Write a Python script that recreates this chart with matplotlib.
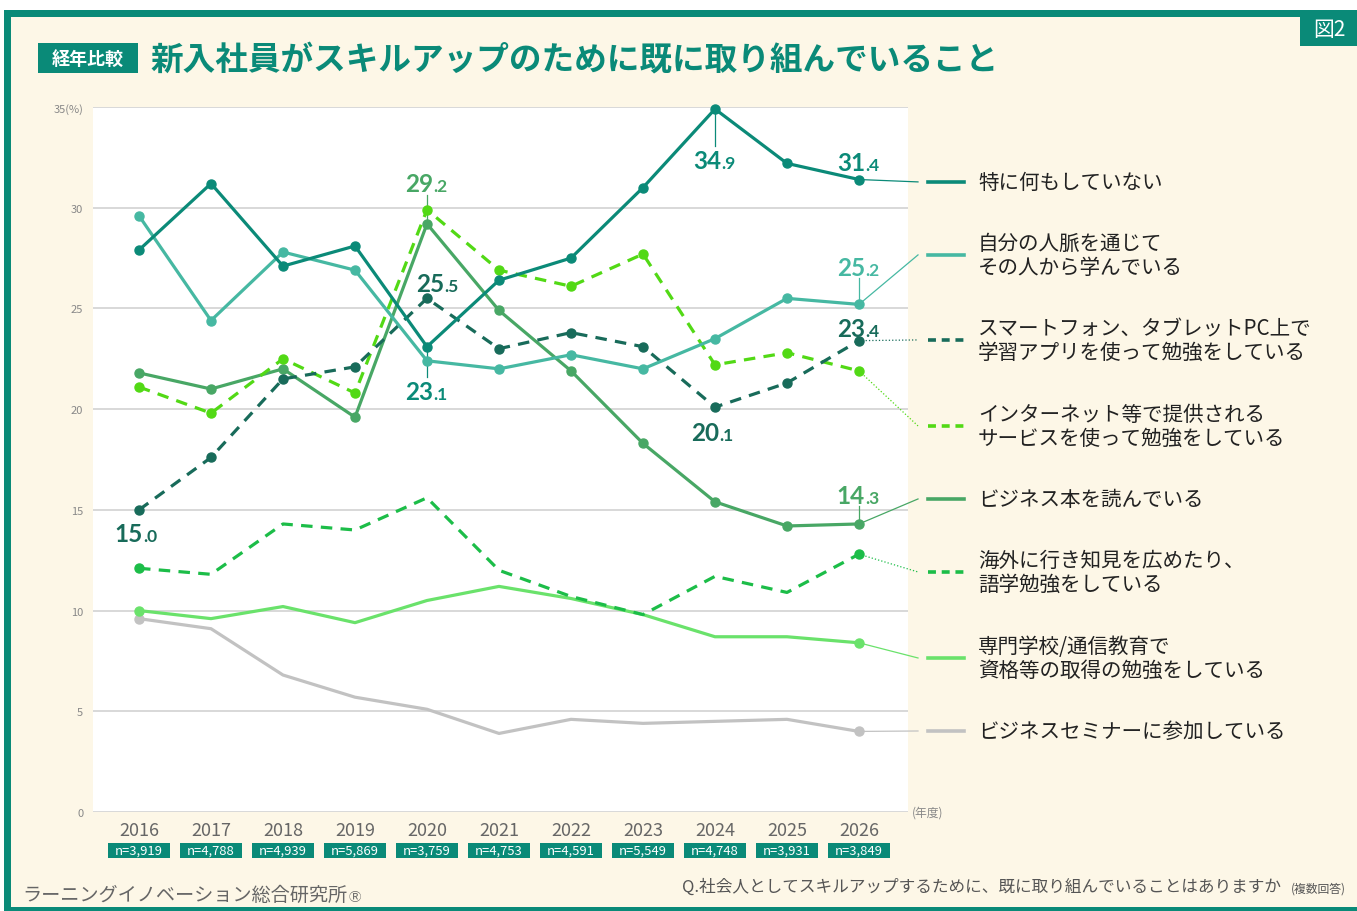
import matplotlib
matplotlib.use("Agg")
import matplotlib.pyplot as plt
from matplotlib.patches import Rectangle

plt.rcParams["font.family"] = ["Noto Sans CJK JP", "DejaVu Sans"]

# データ
years = [2016, 2017, 2018, 2019, 2020, 2021, 2022, 2023, 2024, 2025, 2026]
sample_sizes = ["3,919", "4,788", "4,939", "5,869", "3,759", "4,753",
                "4,591", "5,549", "4,748", "3,931", "3,849"]

nothing = [27.9, 31.2, 27.1, 28.1, 23.1, 26.4, 27.5, 31.0, 34.9, 32.2, 31.4]
network = [29.6, 24.4, 27.8, 26.9, 22.4, 22.0, 22.7, 22.0, 23.5, 25.5, 25.2]
app_study = [15.0, 17.6, 21.5, 22.1, 25.5, 23.0, 23.8, 23.1, 20.1, 21.3, 23.4]
internet = [21.1, 19.8, 22.5, 20.8, 29.9, 26.9, 26.1, 27.7, 22.2, 22.8, 21.9]
books = [21.8, 21.0, 22.0, 19.6, 29.2, 24.9, 21.9, 18.3, 15.4, 14.2, 14.3]
overseas = [12.1, 11.8, 14.3, 14.0, 15.6, 12.0, 10.7, 9.8, 11.7, 10.9, 12.8]
school = [10.0, 9.6, 10.2, 9.4, 10.5, 11.2, 10.6, 9.8, 8.7, 8.7, 8.4]
seminar = [9.6, 9.1, 6.8, 5.7, 5.1, 3.9, 4.6, 4.4, 4.5, 4.6, 4.0]

labels = [
    "特に何もしていない",
    "自分の人脈を通じて\nその人から学んでいる",
    "スマートフォン、タブレットPC上で\n学習アプリを使って勉強をしている",
    "インターネット等で提供される\nサービスを使って勉強をしている",
    "ビジネス本を読んでいる",
    "海外に行き知見を広めたり、\n語学勉強をしている",
    "専門学校/通信教育で\n資格等の取得の勉強をしている",
    "ビジネスセミナーに参加している",
]
legend_y_px = [183, 256, 341, 427, 500, 573, 659, 732]

TEAL = "#0a8a78"
CREAM = "#fdf7e7"
W, H = 1357, 912

# (値, 色, 破線, 全点マーカー)
series = [
    (nothing, "#0b8a78", False, True),
    (network, "#46b8a2", False, True),
    (app_study, "#186b5a", True, True),
    (internet, "#52d915", True, True),
    (books, "#48a765", False, True),
    (overseas, "#1cbd48", True, False),
    (school, "#6ae26b", False, False),
    (seminar, "#c2c2c2", False, False),
]


def fx(px):
    return px / W


def fy(py):
    return 1 - py / H


def xdata(px):
    return 2016 + (px - 139) / 72.0


def ydata(py):
    return (813 - py) / 20.14


fig = plt.figure(figsize=(W / 100, H / 100), dpi=100)
fig.patch.set_facecolor("white")

# 背景と枠
fig.patches.append(Rectangle((fx(4), 0), 1 - fx(4), fy(11), transform=fig.transFigure,
                             facecolor=CREAM, edgecolor="none", zorder=-10))
fig.patches.append(Rectangle((fx(4), fy(18)), 1, 7 / H, transform=fig.transFigure,
                             facecolor=TEAL, edgecolor="none"))
fig.patches.append(Rectangle((fx(4), 0), 7 / W, fy(11), transform=fig.transFigure,
                             facecolor=TEAL, edgecolor="none"))
fig.patches.append(Rectangle((fx(4), 0), 1, 4 / H, transform=fig.transFigure,
                             facecolor=TEAL, edgecolor="none"))
fig.patches.append(Rectangle((fx(1300), fy(47)), 57 / W, 36 / H, transform=fig.transFigure,
                             facecolor=TEAL, edgecolor="none"))
fig.text(fx(1329), fy(30), "図2", color="white", fontsize=15, ha="center", va="center")

# タイトル
fig.patches.append(Rectangle((fx(38), fy(74)), 100 / W, 30 / H, transform=fig.transFigure,
                             facecolor=TEAL, edgecolor="none"))
fig.text(fx(88), fy(59), "経年比較", color="white", fontsize=13, fontweight="bold",
         ha="center", va="center")
fig.text(fx(150), fy(60), "新入社員がスキルアップのために既に取り組んでいること",
         color=TEAL, fontsize=23.5, fontweight="bold", ha="left", va="center")

ax = fig.add_axes([fx(93), fy(813), fx(908) - fx(93), 705 / H])
ax.set_facecolor("white")
ax.set_xlim(xdata(93), xdata(908))
ax.set_ylim(0, 35)
for s in ax.spines.values():
    s.set_visible(False)
ax.set_yticks([0, 5, 10, 15, 20, 25, 30, 35])
ax.set_yticklabels(["0", "5", "10", "15", "20", "25", "30", "35(%)"], fontsize=8, color="#888888")
ax.tick_params(axis="y", length=0, pad=7)
ax.set_xticks([])
ax.grid(axis="y", color="#d6d6d6", linewidth=1.3)
ax.set_axisbelow(True)

# 折れ線
for i, (vals, color, dashed, all_markers) in enumerate(series):
    ls = (0, (3.6, 2.6)) if dashed else "-"
    mev = None if all_markers else [0, len(vals) - 1]
    ax.plot(years, vals, color=color, linewidth=2.3, linestyle=ls, marker="o",
            markersize=6.5, markevery=mev, zorder=3 + (8 - i) * 0.1, clip_on=False)
    # 凡例への引き出し線
    ly = ydata(legend_y_px[i])
    ax.plot([years[-1], xdata(918)], [vals[-1], ly], color=color, linewidth=0.9,
            linestyle=":" if dashed else "-", clip_on=False, zorder=2)
    ax.plot([xdata(928), xdata(964)], [ly, ly], color=color, linewidth=2.6,
            linestyle=(0, (2.2, 1.6)) if dashed else "-", clip_on=False)
    ax.text(xdata(978), ly, labels[i], fontsize=14.8, color="#222222", ha="left",
            va="center", linespacing=1.08, clip_on=False)


def value_label(idx, vals, color, cx_px, base_px, tick=None):
    year = years[idx]
    val = vals[idx]
    whole, dec = f"{val:.1f}".split(".")
    x0 = xdata(139 + (year - 2016) * 72 + cx_px)
    y0 = ydata(base_px)
    kw = dict(color=color, fontweight="bold", va="baseline", family=["Lato", "DejaVu Sans"],
              clip_on=False, zorder=6)
    ax.text(x0, y0, whole, ha="right", fontsize=17.5, **kw)
    ax.text(x0, y0, "." + dec, ha="left", fontsize=12.5, **kw)
    if tick is not None:
        ax.plot([year, year], [val, ydata(tick)], color=color, linewidth=0.9, zorder=2)


value_label(8, nothing, "#0b8a78", 6, 169, tick=147)
value_label(10, nothing, "#0b8a78", 6, 171)
value_label(4, nothing, "#0b8a78", 6, 400, tick=378)
value_label(10, network, "#46b8a2", 6, 276, tick=279)
value_label(10, app_study, "#186b5a", 6, 337)
value_label(4, app_study, "#186b5a", 17, 292)
value_label(8, app_study, "#186b5a", 4, 441)
value_label(0, app_study, "#186b5a", 4, 542)
value_label(4, books, "#48a765", 6, 192, tick=196)
value_label(10, books, "#48a765", 6, 504, tick=507)

# 年ラベルと n
xt = ax.get_xaxis_transform()
for y, n in zip(years, sample_sizes):
    ax.text(y, -0.026, str(y), transform=xt, ha="center", va="center",
            fontsize=13, color="#666666", clip_on=False)
    ax.add_patch(Rectangle((y - 31.5 / 72, -0.054 - 7.5 / 705), 63 / 72, 15 / 705, transform=xt,
                           facecolor=TEAL, edgecolor="none", clip_on=False))
    ax.text(y, -0.054, f"n={n}", transform=xt, ha="center", va="center",
            fontsize=9.4, color="white", clip_on=False)
ax.text(xdata(912), 0, "(年度)", ha="left", va="center", fontsize=8.5, color="#888888", clip_on=False)

# 出典・設問
fig.text(fx(22), fy(895), "ラーニングイノベーション総合研究所", fontsize=13.8, color="#666666",
         ha="left", va="center")
fig.text(fx(349), fy(898), "Ⓡ", fontsize=9, color="#666666", ha="left", va="center")
fig.text(fx(1281), fy(887), "Q.社会人としてスキルアップするために、既に取り組んでいることはありますか",
         fontsize=12, color="#555555", ha="right", va="center")
fig.text(fx(1346), fy(889), "(複数回答)", fontsize=8.5, color="#555555", ha="right", va="center")

fig.savefig("out.png", dpi=100, facecolor=fig.get_facecolor())
